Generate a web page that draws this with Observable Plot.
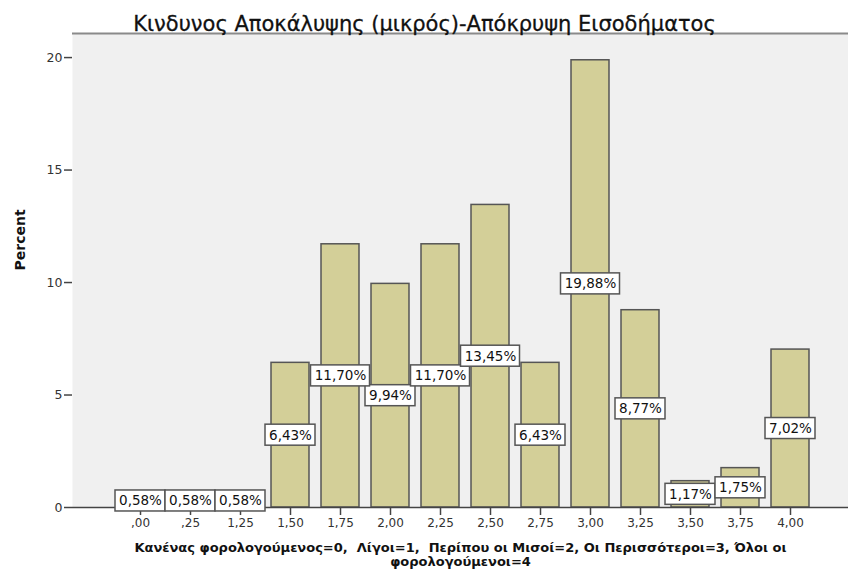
<!DOCTYPE html>
<html><head><meta charset="utf-8">
<script src="https://cdn.jsdelivr.net/npm/d3@7"></script>
<script src="https://cdn.jsdelivr.net/npm/@observablehq/plot@0.6"></script>
<style>body{margin:0;background:#fff} svg{display:block}</style>
</head><body>
<div id="chart"></div>
<script>
const categories = [",00", ",25", "1,25", "1,50", "1,75", "2,00", "2,25", "2,50", "2,75", "3,00", "3,25", "3,50", "3,75", "4,00"];
const percents = [0.58, 0.58, 0.58, 6.43, 11.70, 9.94, 11.70, 13.45, 6.43, 19.88, 8.77, 1.17, 1.75, 7.02];
const title = "Κινδυνος Αποκάλυψης (μικρός)-Απόκρυψη Εισοδήματος";
const xTitle = "Κανένας φορολογούμενος=0,  Λίγοι=1,  Περίπου οι Μισοί=2, Οι Περισσότεροι=3, Όλοι οι\nφορολογούμενοι=4";
const yTitle = "Percent";
const yTicks = [0, 5, 10, 15, 20];

const yTop = 21.07;
const boxHalf = 0.467; // half label box height, in percent units
const data = categories.map((c, i) => ({
  cat: c, pct: percents[i],
  label: percents[i].toFixed(2).replace(".", ",") + "%"
}));
const short = data.filter(d => d.label.length <= 5);
const long = data.filter(d => d.label.length > 5);
const font = "'DejaVu Sans', Verdana, sans-serif";

const chart = Plot.plot({
  width: 848, height: 574, marginTop: 33, marginBottom: 67, marginLeft: 72, marginRight: 0,
  style: {fontFamily: font, fontSize: "12px", color: "#222", background: "#fff"},
  x: {type: "band", domain: categories, range: [104.3, 826.1], padding: 0.25},
  y: {domain: [0, yTop]},
  marks: [
    Plot.frame({fill: "#f0f0f0", stroke: "none"}),
    Plot.ruleY([yTop], {stroke: "#8a8a8a", strokeWidth: 2}),
    Plot.barY(data, {x: "cat", y: "pct", fill: "#d3cf98", stroke: "#555", strokeWidth: 1.5}),
    Plot.ruleY([0], {stroke: "#444", strokeWidth: 1.5}),
    Plot.axisY({ticks: yTicks, tickSize: 8, tickPadding: 2, label: null, line: true, stroke: "#444", strokeWidth: 1.5, fontSize: 12.5, fill: "#333"}),
    Plot.axisX({tickSize: 8, tickPadding: 3, label: null, stroke: "#444", strokeWidth: 1.5, fontSize: 12, fill: "#333", style: {letterSpacing: "0.9px"}}),
    Plot.barY(short, {x: "cat", y1: d => d.pct / 2 - boxHalf, y2: d => d.pct / 2 + boxHalf, insetLeft: -6, insetRight: -6, fill: "#fff", stroke: "#555", strokeWidth: 1.5}),
    Plot.barY(long, {x: "cat", y1: d => d.pct / 2 - boxHalf, y2: d => d.pct / 2 + boxHalf, insetLeft: -10.5, insetRight: -10.5, fill: "#fff", stroke: "#555", strokeWidth: 1.5}),
    Plot.text(data, {x: "cat", y: d => d.pct / 2, text: "label", fontSize: 13.5, fill: "#111"}),
    Plot.text([title], {frameAnchor: "top", dx: -36, dy: -17, fontSize: 21, fill: "#111", stroke: "#111", strokeWidth: 0.3, style: {letterSpacing: "2px"}}),
    Plot.text([yTitle], {frameAnchor: "left", dx: -52, rotate: -90, fontWeight: "bold", fontSize: 14, fill: "#111", style: {letterSpacing: "0.4px"}}),
    Plot.text([xTitle], {frameAnchor: "bottom", dy: 58, fontWeight: "bold", fontSize: 13, lineHeight: 1.05, fill: "#111", style: {letterSpacing: "0.85px"}})
  ]
});
document.getElementById("chart").append(chart);
</script>
</body></html>
